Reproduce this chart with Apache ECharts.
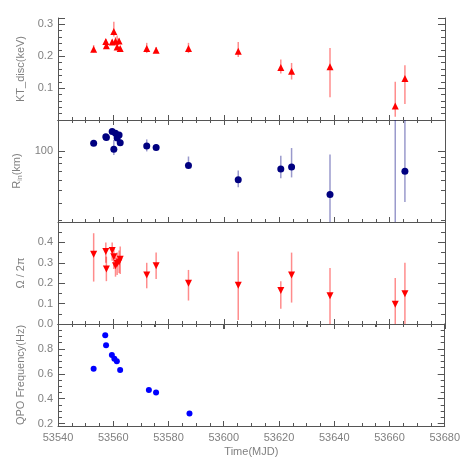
<!DOCTYPE html>
<html>
<head>
<meta charset="utf-8">
<script src="https://cdn.jsdelivr.net/npm/echarts@6/dist/echarts.min.js"></script>
<style>
  html, body { margin: 0; padding: 0; background: #fff; }
  #main { width: 463px; height: 463px; }
</style>
</head>
<body>
<div id="main"></div>
<script>
// observation times (MJD), shared by the first three panels
const mjd = [53552.9, 53557.3, 53557.5, 53559.6, 53560.2, 53560.8, 53561.4, 53562.1, 53562.5,
  53572.1, 53575.5, 53587.2, 53605.2, 53620.6, 53624.5, 53638.4, 53662.0, 53665.5];

// KT_disc (keV)
const ktDisc = [0.222, 0.246, 0.233, 0.245, 0.278, 0.247, 0.229, 0.248, 0.224,
  0.224, 0.219, 0.224, 0.216, 0.165, 0.153, 0.167, 0.044, 0.130];
const ktLo = [0.212, 0.238, 0.226, 0.237, 0.262, 0.235, 0.220, 0.240, 0.218,
  0.210, 0.212, 0.210, 0.198, 0.146, 0.127, 0.071, 0.010, 0.050];
const ktHi = [0.235, 0.254, 0.240, 0.252, 0.308, 0.260, 0.265, 0.256, 0.230,
  0.242, 0.229, 0.242, 0.245, 0.190, 0.179, 0.226, 0.120, 0.172];

// R_in (km)
const rIn = [114, 128, 126, 140, 103, 136, 125, 132, 115,
  109, 106, 77.5, 60.5, 73, 75.4, 46.7, 22, 70];
const rInLo = [110, 124, 122, 135, 93, 131, 120, 127, 111,
  99, 101, 74, 53, 62, 63, 20, 10, 41];
const rInHi = [118, 132, 130, 145, 121, 141, 130, 137, 119,
  122, 112, 90.6, 71, 92, 105, 94, 400, 250];

// Omega / 2pi
const omega = [0.342, 0.355, 0.270, 0.360, 0.330, 0.286, 0.296, 0.304, 0.318,
  0.240, 0.286, 0.200, 0.190, 0.164, 0.240, 0.138, 0.097, 0.148];
const omegaLo = [0.208, 0.300, 0.210, 0.310, 0.270, 0.232, 0.240, 0.250, 0.245,
  0.175, 0.220, 0.115, 0.020, 0.075, 0.105, -0.01, -0.03, -0.01];
const omegaHi = [0.445, 0.400, 0.330, 0.400, 0.370, 0.330, 0.350, 0.360, 0.380,
  0.300, 0.350, 0.265, 0.355, 0.210, 0.350, 0.275, 0.225, 0.300];

// QPO frequency (Hz)
const qpoTime = [53552.9, 53557.1, 53557.4, 53559.5, 53560.4, 53561.3, 53562.5, 53572.9, 53575.5, 53587.6];
const qpoFreq = [0.64, 0.91, 0.83, 0.75, 0.72, 0.70, 0.63, 0.47, 0.45, 0.28];

// tick values
const rInMajor = [100];
const rInMinor = [30, 40, 50, 60, 70, 80, 90];
const qpoMajor = [0.2, 0.4, 0.6, 0.8];
const qpoMinor = [0.2, 0.25, 0.3, 0.35, 0.4, 0.45, 0.5, 0.55, 0.6, 0.65, 0.7, 0.75, 0.8, 0.85, 0.9, 0.95];

const frame = "#555";
const txt = "#808080";
const font = "Liberation Sans";
const panelTop = [18, 120, 222, 324];
const panelH = 102;

var myChart = echarts.init(document.getElementById("main"));

function xAxes(i, last) {
  const base = {
    type: "value", gridIndex: i, min: 53540, max: 53680, interval: 20,
    axisLine: { show: true, lineStyle: { color: frame } },
    splitLine: { show: false },
    axisTick: { show: true, inside: true, length: 5, lineStyle: { color: frame } },
    minorTick: { show: true, splitNumber: 4, length: 3, lineStyle: { color: frame } },
  };
  return [
    Object.assign({}, base, {
      position: "bottom",
      axisLabel: {
        show: last, color: txt, fontFamily: font, fontSize: 11, margin: 6,
        formatter: function (v) { return String(v); },
      },
      name: last ? "Time(MJD)" : "",
      nameLocation: "middle", nameGap: 20,
      nameTextStyle: { color: txt, fontFamily: font, fontSize: 11 },
    }),
    Object.assign({}, base, { position: "top", axisLabel: { show: false } }),
  ];
}

function yAxes(i, opt, name, nameStyle) {
  const base = Object.assign({
    type: "value", gridIndex: i,
    axisLine: { show: true, lineStyle: { color: frame } },
    splitLine: { show: false },
  }, opt);
  base.axisTick = Object.assign({ show: true, inside: true, length: 7, lineStyle: { color: frame } }, opt.axisTick || {});
  return [
    Object.assign({}, base, {
      position: "left",
      axisLabel: Object.assign({ color: txt, fontFamily: font, fontSize: 11, margin: 5 }, opt.axisLabel || {}),
      name: name, nameLocation: "middle", nameGap: 24,
      nameTextStyle: Object.assign({ color: txt, fontFamily: font, fontSize: 11 }, nameStyle || {}),
    }),
    Object.assign({}, base, { position: "right", axisLabel: { show: false } }),
  ];
}

// extra axes that only draw the minor ticks for custom tick panels
function minorAxes(i, opt, values) {
  return ["left", "right"].map(function (pos) {
    return Object.assign({
      type: "value", gridIndex: i, position: pos,
      axisLine: { show: false }, splitLine: { show: false },
      axisLabel: { show: false },
      axisTick: { show: true, inside: true, length: 4, customValues: values, lineStyle: { color: frame } },
    }, opt);
  });
}

const grids = panelTop.map(function (t) {
  return { left: 58, right: 18, top: t, height: panelH };
});

let xAxis = [];
for (let i = 0; i < 4; i++) xAxis = xAxis.concat(xAxes(i, i === 3));

const yAxis = [].concat(
  // 0,1 : KT_disc
  yAxes(0, {
    min: 0, max: 0.32, interval: 0.1,
    axisLabel: { showMinLabel: false, showMaxLabel: false, formatter: function (v) { return v.toFixed(1); } },
    minorTick: { show: true, splitNumber: 5, length: 4, lineStyle: { color: frame } },
  }, "KT_disc(keV)"),
  // 2,3 : R_in (log)
  yAxes(1, {
    type: "log", min: 29, max: 171,
    axisLabel: { customValues: rInMajor },
    axisTick: { customValues: rInMajor },
  }, "{m|R}{s|in}{m|(km)}", {
    rich: {
      m: { color: txt, fontFamily: font, fontSize: 11, lineHeight: 13 },
      s: { color: txt, fontFamily: font, fontSize: 7, lineHeight: 13, verticalAlign: "bottom" },
    },
  }),
  // 4,5 : R_in minor ticks
  minorAxes(1, { type: "log", min: 29, max: 171 }, rInMinor),
  // 6,7 : Omega / 2pi
  yAxes(2, {
    min: 0, max: 0.5, interval: 0.1,
    axisLabel: { showMaxLabel: false, formatter: function (v) { return v.toFixed(1); } },
    minorTick: { show: true, splitNumber: 2, length: 4, lineStyle: { color: frame } },
  }, "\u03A9 / 2\u03C0"),
  // 8,9 : QPO
  yAxes(3, {
    min: 0.18, max: 1.0,
    axisLabel: { customValues: qpoMajor, formatter: function (v) { return v.toFixed(1); } },
    axisTick: { customValues: qpoMajor },
  }, "QPO Frequency(Hz)"),
  // 10,11 : QPO minor ticks
  minorAxes(3, { min: 0.18, max: 1.0 }, qpoMinor)
);

function errSeries(xi, yi, lo, hi, color) {
  return {
    type: "custom", xAxisIndex: xi, yAxisIndex: yi, clip: true, z: 1,
    data: mjd.map(function (t, k) { return [t, lo[k], hi[k]]; }),
    encode: { x: 0, y: [1, 2] },
    renderItem: function (params, api) {
      const p1 = api.coord([api.value(0), api.value(1)]);
      const p2 = api.coord([api.value(0), api.value(2)]);
      return {
        type: "line",
        shape: { x1: p1[0], y1: p1[1], x2: p2[0], y2: p2[1] },
        style: { stroke: color, lineWidth: 1.5 },
      };
    },
  };
}

function pts(xs, ys) {
  return xs.map(function (t, k) { return [t, ys[k]]; });
}

myChart.setOption({
  animation: false,
  backgroundColor: "#fff",
  grid: grids,
  xAxis: xAxis,
  yAxis: yAxis,
  series: [
    errSeries(0, 0, ktLo, ktHi, "rgba(255,0,0,0.45)"),
    {
      type: "scatter", xAxisIndex: 0, yAxisIndex: 0, clip: true, z: 2,
      symbol: "triangle", symbolSize: 7,
      itemStyle: { color: "#ff0000", opacity: 1 },
      data: pts(mjd, ktDisc),
    },
    errSeries(2, 2, rInLo, rInHi, "rgba(0,0,128,0.4)"),
    {
      type: "scatter", xAxisIndex: 2, yAxisIndex: 2, clip: true, z: 2,
      symbol: "circle", symbolSize: 7,
      itemStyle: { color: "#000080", opacity: 1 },
      data: pts(mjd, rIn),
    },
    errSeries(4, 6, omegaLo, omegaHi, "rgba(255,0,0,0.45)"),
    {
      type: "scatter", xAxisIndex: 4, yAxisIndex: 6, clip: true, z: 2,
      symbol: "triangle", symbolRotate: 180, symbolSize: 7,
      itemStyle: { color: "#ff0000", opacity: 1 },
      data: pts(mjd, omega),
    },
    {
      type: "scatter", xAxisIndex: 6, yAxisIndex: 8, clip: true, z: 2,
      symbol: "circle", symbolSize: 6,
      itemStyle: { color: "#0000ff", opacity: 1 },
      data: pts(qpoTime, qpoFreq),
    },
  ],
});
</script>
</body>
</html>
